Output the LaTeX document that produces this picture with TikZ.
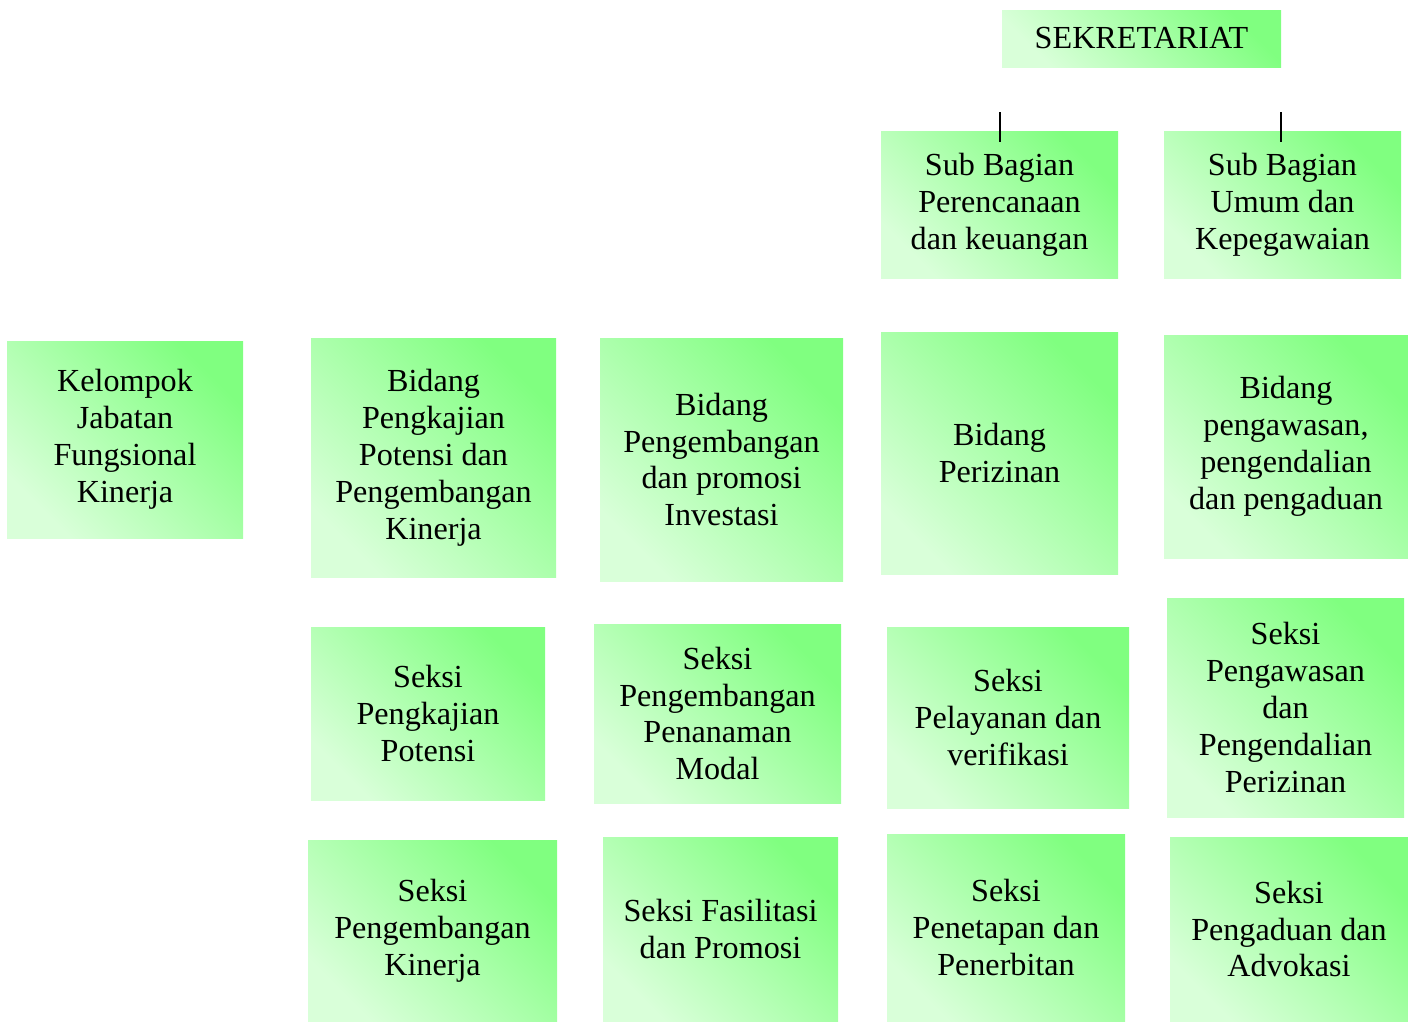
\documentclass[tikz,border=0pt]{standalone}
\usepackage{fontspec}
\setmainfont{Liberation Serif}
\usepackage{tikz}
\usetikzlibrary{calc}
\colorlet{unitlo}{green!15!white}
\colorlet{unithi}{green!50!white}
\tikzset{
  unit/.style 2 args={rectangle, inner sep=0pt, align=center,
    minimum width=#1*0.02cm, minimum height=#2*0.02cm,
    top color=unithi, bottom color=unitlo, shading angle=-45,
    font=\fontsize{18.3}{21}\selectfont},
  tick/.style={draw=black, line width=0.6pt}
}

\begin{document}
\begin{tikzpicture}[x=0.02cm,y=-0.02cm]
\useasboundingbox (0,0) rectangle (1408,1021);

% Secretariat
\node[unit={279}{57}] (sek) at (1141.5,38.5) {SEKRETARIAT};
\node[unit={237}{147}] (spk) at (999.5,204.5) {Sub Bagian\\Perencanaan\\dan keuangan};
\node[unit={237}{147}] (suk) at (1282.5,204.5) {Sub Bagian\\Umum dan\\Kepegawaian};

% Ticks above the sub units
\coordinate (t1) at (1000,112);
\coordinate (t2) at (1281,112);
\draw[tick] (t1) -- ($(t1 |- spk.north)+(0,11)$);
\draw[tick] (t2) -- ($(t2 |- suk.north)+(0,11)$);

% Bidang row
\node[unit={236}{197}] (kjf) at (125,439.5) {Kelompok\\Jabatan\\Fungsional\\Kinerja};
\node[unit={245}{239}] (bpk) at (433.5,457.5) {Bidang\\Pengkajian\\Potensi dan\\Pengembangan\\Kinerja};
\node[unit={243}{243}] (bpi) at (721.5,459.5) {Bidang\\Pengembangan\\dan promosi\\Investasi};
\node[unit={237}{242}] (bpz) at (999.5,453) {Bidang\\Perizinan};
\node[unit={244}{223}] (bpp) at (1286,446.5) {Bidang\\pengawasan,\\pengendalian\\dan pengaduan};

% Seksi, first row
\node[unit={234}{173}] (spt) at (428,713.5) {Seksi\\Pengkajian\\Potensi};
\node[unit={247}{179}] (spm) at (717.5,713.5) {Seksi\\Pengembangan\\Penanaman\\Modal};
\node[unit={242}{181}] (spv) at (1008,717.5) {Seksi\\Pelayanan dan\\verifikasi};
\node[unit={237}{219}] (spz) at (1285.5,707.5) {Seksi\\Pengawasan\\dan\\Pengendalian\\Perizinan};

% Seksi, second row
\node[unit={249}{181}] (sgk) at (432.5,930.5) {Seksi\\Pengembangan\\Kinerja};
\node[unit={235}{184}] (sfp) at (720.5,929) {Seksi Fasilitasi\\dan Promosi};
\node[unit={238}{187}] (spb) at (1006,927.5) {Seksi\\Penetapan dan\\Penerbitan};
\node[unit={238}{184}] (sad) at (1289,929) {Seksi\\Pengaduan dan\\Advokasi};
\end{tikzpicture}
\end{document}
